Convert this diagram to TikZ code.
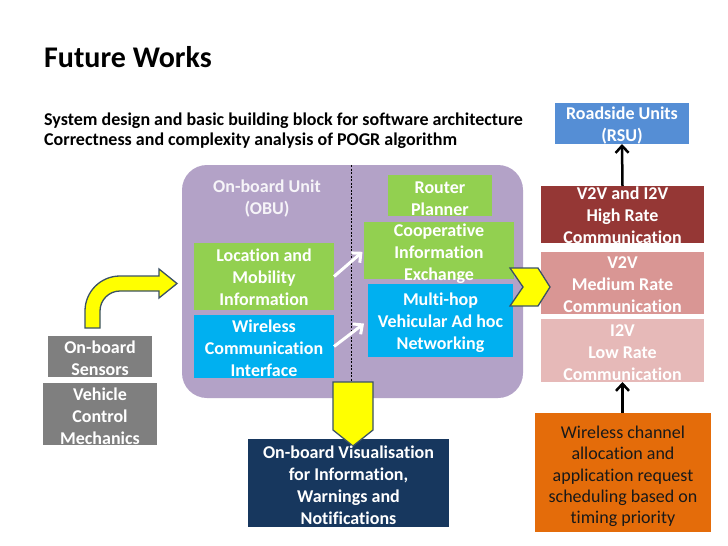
\documentclass[tikz,border=0pt]{standalone}
\usepackage{fontspec}
\setmainfont{Carlito}[Ligatures={NoCommon}]
\usetikzlibrary{arrows.meta}
\definecolor{obu}{HTML}{B3A2C7}
\definecolor{grn}{HTML}{92D050}
\definecolor{bblue}{HTML}{00B0F0}
\definecolor{gry}{HTML}{7F7F7F}
\definecolor{navy}{HTML}{17375E}
\definecolor{rsu}{HTML}{558ED5}
\definecolor{hrate}{HTML}{953735}
\definecolor{mrate}{HTML}{D99694}
\definecolor{lrate}{HTML}{E6B9B8}
\definecolor{org}{HTML}{E46C0A}
\definecolor{ylw}{HTML}{FFFF00}
\definecolor{ybord}{HTML}{3B5266}
\begin{document}
\begin{tikzpicture}[x=1pt,y=-1pt,
  blk/.style={draw=none, inner sep=0pt, outer sep=0pt},
  txt/.style={text=white, font=\fontsize{18}{22}\selectfont\bfseries, align=center, inner sep=0pt, yshift=-2pt},
  otxt/.style={text=black!90, font=\fontsize{18}{21.3}\selectfont, align=center, inner sep=0pt},
  warrow/.style={draw=white, line width=3pt, -{Straight Barb[length=7pt,width=13pt]}},
  barrow/.style={draw=black, line width=2.5pt, -{Straight Barb[length=7pt,width=13pt]}},
  yshape/.style={fill=ylw, draw=ybord, line width=1.3pt, line join=miter}
]
\useasboundingbox[fill=white] (0,0) rectangle (728,546);

% titles
\node[anchor=base west, inner sep=0pt, font=\fontsize{30}{36}\selectfont\bfseries] (title) at (44,67) {Future Works};
\node[anchor=base west, inner sep=0pt, font=\fontsize{18}{21}\selectfont\bfseries] (sub1) at (44,125) {System design and basic building block for software architecture};
\node[anchor=base west, inner sep=0pt, font=\fontsize{18}{21}\selectfont\bfseries] (sub2) at (44,145) {Correctness and complexity analysis of POGR algorithm};

% OBU container
\node[blk, fill=obu, rounded corners=25pt, minimum width=341pt, minimum height=233pt] (obu) at (352.5,281.5) {};
\coordinate (dtop) at (351,165);
\coordinate (dbot) at (351,398);
\draw[black, line width=0.6pt, dash pattern=on 2pt off 1.5pt] (dtop) -- (dbot);
\node[txt, text=white!88!obu] (obut) at (267,197) {On-board Unit\\(OBU)};

% inner boxes
\node[blk, fill=grn, minimum width=140pt, minimum height=67pt] (loc) at (264,276.5) {};
\node[txt, yshift=1pt] (loct) at (loc) {Location and\\Mobility\\Information};
\node[blk, fill=bblue, minimum width=140pt, minimum height=63pt] (wci) at (264,346.5) {};
\node[txt] (wcit) at (wci) {Wireless\\Communication\\Interface};
\node[blk, fill=grn, minimum width=104pt, minimum height=41pt] (rp) at (440,195.5) {};
\node[txt] (rpt) at ([yshift=-1.5pt]rp.center) {Router\\Planner};
\node[blk, fill=grn, minimum width=150pt, minimum height=57pt] (coop) at (439,250.5) {};
\node[txt] (coopt) at ([yshift=-1pt]coop.center) {Cooperative\\Information\\Exchange};
\node[blk, fill=bblue, minimum width=145pt, minimum height=73pt] (mh) at (440.5,320.5) {};
\node[txt] (mht) at (mh) {Multi-hop\\Vehicular Ad hoc\\Networking};

\draw[warrow, shorten >=2pt] (loc.east) -- (coop.west);
\draw[warrow, shorten >=5pt] (wci.east) -- (mh.west);

% left gray boxes
\node[blk, fill=gry, minimum width=104pt, minimum height=41pt] (sens) at (100,356.5) {};
\node[txt] (senst) at (sens) {On-board\\Sensors};
\node[blk, fill=gry, minimum width=114pt, minimum height=62pt] (veh) at (100,414) {};
\node[txt] (veht) at (veh) {Vehicle\\Control\\Mechanics};

% bent yellow arrow
\draw[yshape] (85,328) -- (85,311) arc[start angle=180, end angle=270, radius=35]
  -- (159,276) -- (159,269) -- (177,283.5) -- (159,298) -- (159,291) -- (120,291)
  arc[start angle=270, end angle=180, radius=20] -- (100,328) -- cycle;

% visualisation box and down arrow
\node[blk, fill=navy, minimum width=201pt, minimum height=88pt] (vis) at (348.5,483) {};
\draw[yshape] (333,382) -- (373,382) -- (373,430) -- (353,446) -- (333,430) -- cycle;
\node[txt] (vist) at (vis) {On-board Visualisation\\for Information,\\Warnings and\\Notifications};

% right column
\node[blk, fill=rsu, minimum width=134pt, minimum height=41pt] (rsu) at (622,123.5) {};
\node[txt] (rsut) at (rsu) {Roadside Units\\(RSU)};
\node[blk, fill=hrate, minimum width=163pt, minimum height=57pt] (hr) at (622.5,214.5) {};
\node[txt, yshift=1pt] (hrt) at (hr) {V2V and I2V\\High Rate\\Communication};
\node[blk, fill=mrate, minimum width=163pt, minimum height=62pt] (mr) at (622.5,283) {};
\node[txt] (mrt) at (mr) {V2V\\Medium Rate\\Communication};
\node[blk, fill=lrate, minimum width=163pt, minimum height=63pt] (lr) at (622.5,350.5) {};
\node[txt] (lrt) at (lr) {I2V\\Low Rate\\Communication};
\node[blk, fill=org, minimum width=176pt, minimum height=119pt] (org) at (623,472.5) {};
\node[otxt] (orgt) at ([yshift=-4pt]org.center) {Wireless channel\\allocation and\\application request\\scheduling based on\\timing priority};

\draw[barrow] (hr.north) -- (rsu.south);
\draw[barrow] (org.north -| lr.south) -- (lr.south);

% chevron
\draw[yshape] (510,268) -- (538,268) -- (550,287) -- (538,306) -- (510,306) -- (523,287) -- cycle;
\end{tikzpicture}
\end{document}
